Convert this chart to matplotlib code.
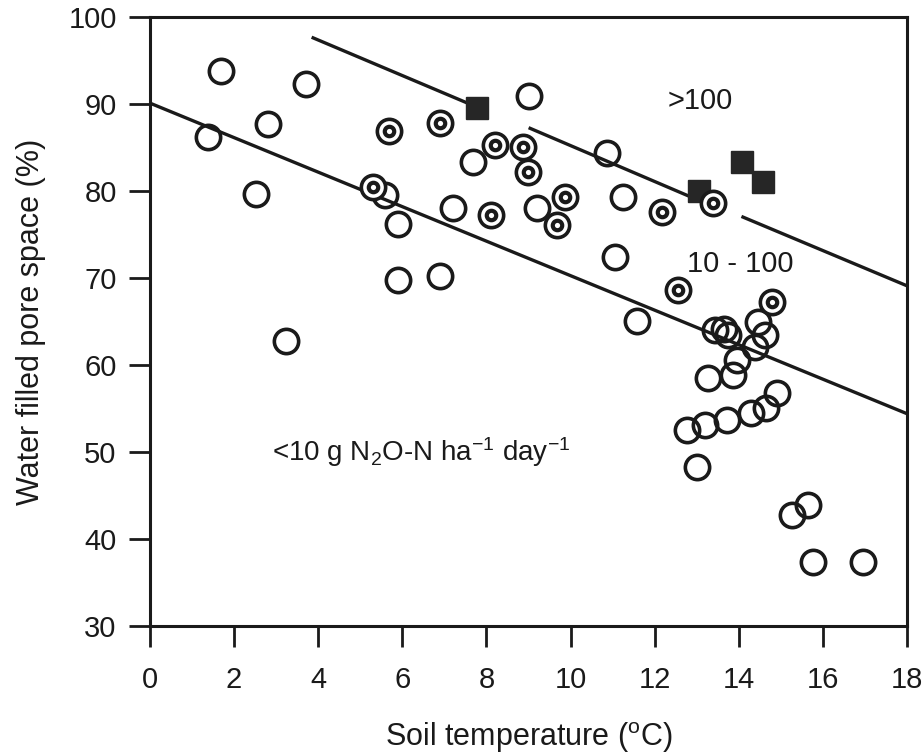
import matplotlib
matplotlib.use("Agg")
import matplotlib.pyplot as plt

plt.rcParams['font.family'] = ['Liberation Sans', 'DejaVu Sans']
plt.rcParams['mathtext.fontset'] = 'custom'
plt.rcParams['mathtext.rm'] = 'Liberation Sans'
plt.rcParams['mathtext.default'] = 'regular'

# <10 g N2O-N / ha / day  (open circles)
low_t = [1.38, 1.69, 2.80, 2.52, 3.71, 3.23, 5.60, 5.90, 5.90, 6.90, 7.21, 7.68,
         9.01, 9.20, 10.87, 11.25, 11.06, 11.58,
         13.44, 13.65, 13.75, 14.46, 14.63, 14.39, 13.96, 13.86, 13.27,
         12.76, 13.20, 13.72, 14.28, 14.64, 14.92, 13.00, 15.27, 15.65, 15.77, 16.96]
low_w = [86.2, 93.8, 87.7, 79.7, 92.3, 62.8, 79.5, 76.2, 69.8, 70.2, 78.0, 83.3,
         90.9, 78.0, 84.4, 79.3, 72.4, 65.0,
         64.0, 64.1, 63.4, 64.9, 63.4, 62.1, 60.6, 58.9, 58.5,
         52.5, 53.1, 53.7, 54.5, 55.1, 56.8, 48.3, 42.8, 43.9, 37.4, 37.4]

# 10 - 100 (circle with centre dot)
mid_t = [5.30, 5.69, 6.90, 8.20, 8.87, 8.99, 8.11, 9.87, 9.68, 12.18, 12.56, 14.79, 13.39]
mid_w = [80.5, 86.9, 87.8, 85.3, 85.1, 82.2, 77.2, 79.3, 76.1, 77.6, 68.6, 67.2, 78.6]

# >100 (filled squares)
high_t = [7.78, 13.05, 14.08, 14.58]
high_w = [89.5, 80.0, 83.3, 81.0]

# boundary lines
lower_line_t = [0.0, 18.0]
lower_line_w = [90.1, 54.4]
upper_segs = [([3.88, 7.60], [97.6, 90.0]),
              ([9.04, 12.77], [87.2, 79.5]),
              ([14.10, 18.0], [77.0, 69.1])]

fig = plt.figure(figsize=(9.24, 7.55), dpi=100)
ax = fig.add_axes([0.1623, 0.1709, 0.8193, 0.8066])

ax.plot(lower_line_t, lower_line_w, color='#1a1a1a', lw=2.4, zorder=2)
for st, sw in upper_segs:
    ax.plot(st, sw, color='#1a1a1a', lw=2.4, zorder=2)

ax.plot(low_t, low_w, 'o', ms=17.5, mfc='none', mec='#1a1a1a', mew=2.6, zorder=3)
ax.plot(high_t, high_w, 's', ms=16, mfc='#262626', mec='#262626', mew=1, zorder=4)
ax.plot(mid_t, mid_w, 'o', ms=17.5, mfc='white', mec='#1a1a1a', mew=2.6, zorder=5)
ax.plot(mid_t, mid_w, 'o', ms=6.8, mfc='white', mec='#1a1a1a', mew=3.0, zorder=6)

ax.text(13.08, 90.3, '>100', fontsize=21, ha='center', va='center', color='#1a1a1a')
ax.text(14.03, 71.6, '10 - 100', fontsize=21, ha='center', va='center', color='#1a1a1a')
ax.text(2.9, 50.0, '<10 g N$_2$O-N ha$^{-1}$ day$^{-1}$', fontsize=20,
        ha='left', va='center', color='#1a1a1a')

ax.set_xlim(0, 18)
ax.set_ylim(30, 100)
ax.set_xticks(range(0, 19, 2))
ax.set_yticks(range(30, 101, 10))
ax.tick_params(axis='both', direction='out', length=15, width=2, labelsize=21,
               colors='#1a1a1a')
ax.tick_params(axis='x', pad=14)
ax.tick_params(axis='y', pad=9)
for sp in ax.spines.values():
    sp.set_linewidth(2.2)
    sp.set_color('#1a1a1a')

ax.set_xlabel('Soil temperature ($^{o}$C)', fontsize=22, labelpad=19, color='#1a1a1a')
ax.set_ylabel('Water filled pore space (%)', fontsize=22, labelpad=16, color='#1a1a1a')

fig.savefig('out.png', dpi=100)
